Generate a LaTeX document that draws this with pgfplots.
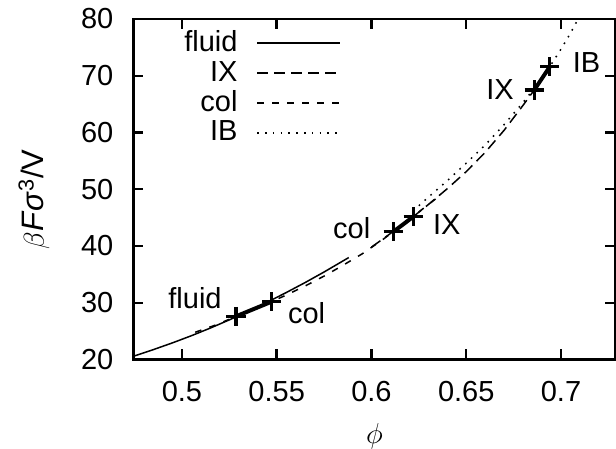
\documentclass[border=0pt]{standalone}
\usepackage{fontspec}
\setmainfont{Liberation Sans}
\usepackage{pgfplots}
\pgfplotsset{compat=1.18}

\begin{document}
\fontsize{14.5}{17}\selectfont
\begin{tikzpicture}
\useasboundingbox (-66.7pt,-44.75pt) rectangle (241.3pt,179.75pt);
\begin{axis}[
    at={(0pt,0pt)}, anchor=south west,
    scale only axis,
    width=241pt, height=170.25pt,
    xmin=0.4744, xmax=0.7287,
    ymin=20, ymax=80,
    xtick={0.5,0.55,0.6,0.65,0.7},
    ytick={20,30,40,50,60,70,80},
    /pgf/number format/assume math mode=true,
    /pgf/number format/fixed,
    xticklabel style={yshift=-6pt},
    yticklabel style={xshift=-5pt},
    axis line style={line width=1.35pt},
    tick style={line width=1.2pt, black},
    major tick length=5pt,
    xlabel={$\phi$},
    ylabel={$\beta$\textit{F}\textit{σ}\textsuperscript{3}/V},
    xlabel style={at={(axis description cs:0.5,0)}, anchor=center, yshift=-38.5pt,
        font=\fontsize{15.5}{18}\selectfont},
    ylabel style={at={(axis description cs:0,0.47)}, anchor=center, rotate=0, yshift=49.7pt,
        font=\fontsize{15.5}{18}\selectfont},
    legend plot pos=right,
    legend cell align=right,
    legend style={draw=none, fill=none, inner sep=0pt, outer sep=0pt,
        at={(axis description cs:0.4307,0.9736)}, anchor=north east,
        nodes={inner sep=1pt, text height=10.5pt, text depth=2.5pt},
        column sep=8.5pt},
    legend image code/.code={\draw[#1] (0pt,0pt) -- (41.5pt,0pt);},
    every axis plot/.append style={line width=0.75pt, black},
]
% fluid
\addplot[solid] coordinates {
(0.474,20.52) (0.485,21.75) (0.495,22.93) (0.505,24.19) (0.515,25.54)
(0.525,26.98) (0.535,28.50) (0.545,30.10) (0.555,31.79) (0.565,33.56)
(0.575,35.42) (0.588,37.96)};
\addlegendentry{fluid}
% IX
\addplot[dash pattern=on 5.5pt off 3pt] coordinates {
(0.600,39.8) (0.610,42.2) (0.622,45.15) (0.630,47.3) (0.640,50.1)
(0.650,53.1) (0.660,56.5) (0.670,60.4) (0.680,64.8) (0.6859,67.5) (0.690,69.5)};
\addlegendentry{IX}
% col
\addplot[dash pattern=on 3.25pt off 4.25pt] coordinates {
(0.507,24.8) (0.518,26.1) (0.530,27.8) (0.540,29.15) (0.5474,30.2)
(0.555,31.35) (0.565,32.95) (0.575,34.7) (0.585,36.6) (0.595,38.6)
(0.605,40.9) (0.6115,42.5) (0.620,44.7) (0.630,47.3) (0.635,48.6)};
\addlegendentry{col}
% IB
\addplot[dash pattern=on 0.8pt off 3.1pt] coordinates {
(0.625,47.1) (0.630,48.6) (0.640,51.5) (0.650,54.6) (0.660,57.8)
(0.670,61.4) (0.680,65.3) (0.6859,67.8) (0.6941,71.6) (0.700,74.7)
(0.705,77.5) (0.7095,80.3)};
\addlegendentry{IB}
% coexistence tie lines
\addplot[forget plot, line width=2pt, mark=+, mark size=4.8pt, mark options={line width=1.6pt}]
  coordinates {(0.5285,27.6) (0.5474,30.2)};
\addplot[forget plot, line width=2pt, mark=+, mark size=4.8pt, mark options={line width=1.6pt}]
  coordinates {(0.6115,42.5) (0.6220,45.15)};
\addplot[forget plot, line width=2pt, mark=+, mark size=4.8pt, mark options={line width=1.6pt}]
  coordinates {(0.6859,67.5) (0.6941,71.6)};
\node at (axis cs:0.5069,30.8) {fluid};
\node at (axis cs:0.5658,28.2) {col};
\node at (axis cs:0.5896,43.2) {col};
\node at (axis cs:0.6397,43.7) {IX};
\node at (axis cs:0.6678,67.5) {IX};
\node at (axis cs:0.7135,72.3) {IB};
\end{axis}
\end{tikzpicture}
\end{document}
